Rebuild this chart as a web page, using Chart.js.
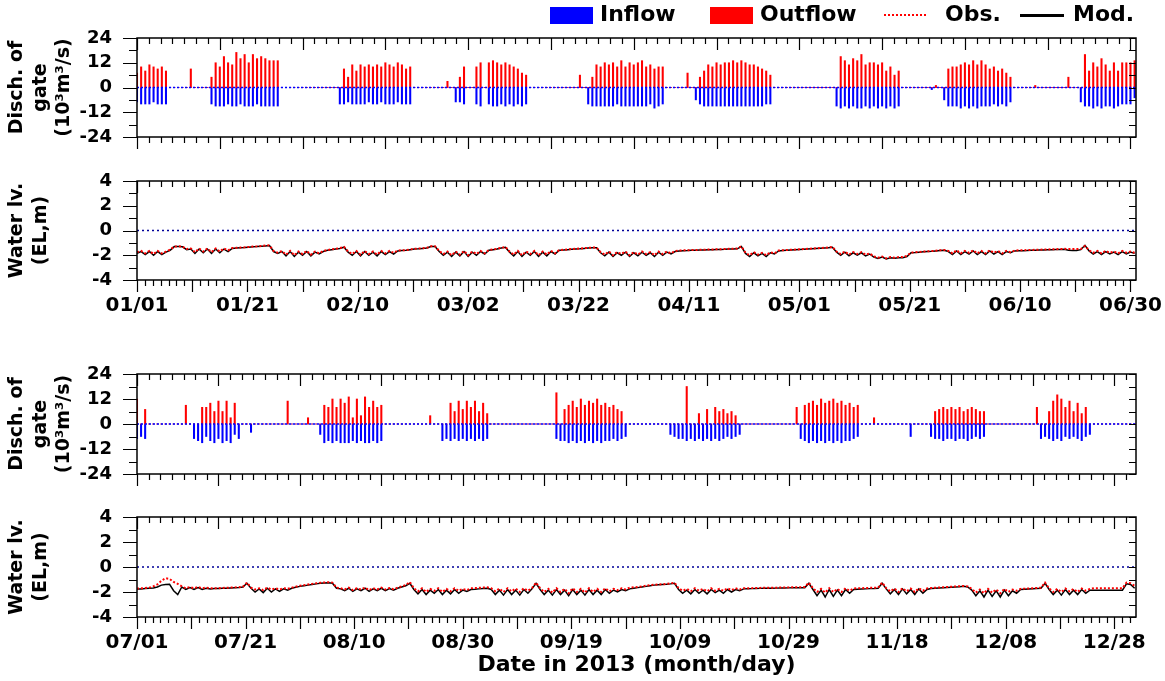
<!DOCTYPE html>
<html>
<head>
<meta charset="utf-8">
<script src="https://cdn.jsdelivr.net/npm/chart.js@4.4.0/dist/chart.umd.min.js"></script>
<style>
  body { margin: 0; background: #fff; width: 1165px; height: 681px; overflow: hidden; position: relative; }
  canvas { position: absolute; left: 0; }
  #legend { position: absolute; left: 0; top: 0; width: 1165px; height: 32px; font: bold 22px "DejaVu Sans", sans-serif; color: #000; }
  #legend span { position: absolute; top: 2px; line-height: 24px; }
  #legend i { position: absolute; display: block; }
</style>
</head>
<body>
<canvas id="disch1" width="1165" height="150" style="top:0px"></canvas>
<canvas id="level1" width="1165" height="170" style="top:150px"></canvas>
<canvas id="disch2" width="1165" height="150" style="top:340px"></canvas>
<canvas id="level2" width="1165" height="191" style="top:490px"></canvas>
<div id="legend">
  <i style="left:550px;top:7px;width:43px;height:17px;background:#0000ff"></i><span style="left:600px">Inflow</span>
  <i style="left:710px;top:7px;width:43px;height:17px;background:#ff0000"></i><span style="left:760px">Outflow</span>
  <i style="left:884px;top:14px;width:42px;border-top:2px dotted #ff0000"></i><span style="left:945px">Obs.</span>
  <i style="left:1020px;top:14px;width:44px;border-top:3px solid #000"></i><span style="left:1073px">Mod.</span>
</div>
<script>
// time axis: days since 01/01 (first half) and since 07/01 (second half)
const SPAN1 = 181;
const SPAN2 = 184;
const SLOT = 0.75; // days between samples in the arrays below
const TICK_DAYS = [0, 20, 40, 60, 80, 100, 120, 140, 160, 180];
const dateLabels1 = ['01/01', '01/21', '02/10', '03/02', '03/22', '04/11', '05/01', '05/21', '06/10', '06/30'];
const dateLabels2 = ['07/01', '07/21', '08/10', '08/30', '09/19', '10/09', '10/29', '11/18', '12/08', '12/28'];

// gate discharge (10^3 m3/s), outflow positive, inflow negative
const outflow1 = [
  7,10,8,11,10,9,10,8,0,0, 0,0,0,9,0,0,0,0,5,12,
  10,15,12,11,17,14,16,12,16,14, 15,14,13,13,13,0,0,0,0,0,
  0,0,0,0,0,0,0,0,0,0, 9,5,11,8,11,10,11,10,11,10,
  12,11,10,12,11,9,10,0,0,0, 0,0,0,0,0,3,0,0,5,10,
  0,0,10,12,0,12,13,12,11,12, 11,10,9,7,6,0,0,0,0,0,
  0,0,0,0,0,0,0,6,0,0, 5,11,10,12,11,12,10,13,10,12,
  11,12,13,10,11,9,10,10,0,0, 0,0,0,7,0,0,5,8,11,10,
  12,11,12,12,13,12,13,12,11,11, 10,9,8,6,0,0,0,0,0,0,
  0,0,0,0,0,0,0,0,0,0, 15,13,11,14,13,16,11,12,12,11,
  12,8,10,6,8,0,0,0,0,0, 0,0,0,1,0,0,9,10,10,11,
  12,11,13,11,13,11,9,10,8,9, 7,5,0,0,0,0,0,1,0,0,
  0,0,0,0,0,5,0,0,0,16, 8,12,10,14,11,8,12,8,12,12, 12,13
];
const inflow1 = [
  -7,-8,-8,-8,-7,-8,-8,-8,0,0, 0,0,0,0,0,0,0,0,-8,-9,
  -9,-9,-8,-9,-9,-8,-9,-9,-9,-8, -9,-9,-9,-9,-9,0,0,0,0,0,
  0,0,0,0,0,0,0,0,0,-8, -8,-7,-8,-8,-8,-8,-7,-8,-8,-7,
  -8,-8,-8,-7,-8,-8,-8,0,0,0, 0,0,0,0,0,0,0,-7,-7,-8,
  0,0,-8,-9,0,-8,-9,-9,-8,-9, -8,-9,-8,-9,-8,0,0,0,0,0,
  0,0,0,0,0,0,0,0,0,-8, -9,-9,-9,-9,-9,-9,-8,-9,-9,-9,
  -9,-9,-9,-9,-8,-10,-9,-8,0,0, 0,0,0,0,0,-6,-8,-9,-9,-9,
  -9,-9,-9,-9,-9,-9,-9,-9,-9,-9, -9,-9,-8,-8,0,0,0,0,0,0,
  0,0,0,0,0,0,0,0,0,-9, -10,-9,-10,-9,-10,-10,-9,-10,-9,-10,
  -9,-10,-9,-10,-9,0,0,0,0,0, 0,0,-1,0,0,-6,-9,-9,-9,-10,
  -9,-10,-9,-10,-9,-9,-9,-8,-9,-8, -9,-7,0,0,0,0,0,0,0,0,
  0,0,0,0,0,0,0,0,-7,-9, -9,-10,-9,-10,-9,-9,-10,-9,-8,-8, -8,-5
];
const outflow2 = [
  12,0,7,0,0,0,0,0,0,0, 0,0,9,0,0,0,8,8,10,6,
  11,6,11,3,10,0,0,0,0,0, 0,0,0,0,0,0,0,11,0,0,
  0,0,3,0,0,0,9,8,12,8, 12,10,13,3,12,4,13,8,11,8,
  9,0,0,0,0,0,0,0,0,0, 0,0,4,0,0,0,0,10,6,11,
  7,11,8,11,6,10,5,0,0,0, 0,0,0,0,0,0,0,0,0,0,
  0,0,0,15,0,7,9,11,8,12, 9,11,10,12,9,10,8,9,7,6,
  0,0,0,0,0,0,0,0,0,0, 0,0,0,0,0,18,0,0,5,0,
  7,0,8,6,7,5,6,4,0,0, 0,0,0,0,0,0,0,0,0,0,
  0,0,8,0,9,10,11,9,12,10, 11,12,10,11,9,10,8,9,0,0,
  0,3,0,0,0,0,0,0,0,0, 0,0,0,0,0,0,6,7,8,7,
  8,7,8,6,7,8,7,6,6,0, 0,0,0,0,0,0,0,0,0,0,
  0,8,0,0,6,11,14,12,8,11, 6,10,5,8,0,0,0,0,0,0, 0,0,0,0,0,0
];
const inflow2 = [
  -7,-6,-7,0,0,0,0,0,0,0, 0,0,0,0,-7,-8,-9,-6,-8,-9,
  -7,-9,-8,-9,-5,-7,0,0,-4,0, 0,0,0,0,0,0,0,0,0,0,
  0,0,0,0,0,-5,-9,-8,-9,-8, -9,-9,-9,-8,-9,-8,-9,-9,-8,-9,
  -8,0,0,0,0,0,0,0,0,0, 0,0,0,0,0,-8,-7,-8,-7,-8,
  -7,-8,-7,-8,-7,-8,-7,0,0,0, 0,0,0,0,0,0,0,0,0,0,
  0,0,0,-7,-8,-8,-9,-8,-9,-8, -9,-8,-9,-8,-9,-8,-8,-7,-8,-7,
  -6,0,0,0,0,0,0,0,0,0, 0,-5,-6,-7,-7,-8,-7,-8,-7,-8,
  -7,-8,-7,-8,-7,-6,-7,-6,-5,0, 0,0,0,0,0,0,0,0,0,0,
  0,0,0,-7,-8,-9,-8,-9,-8,-9, -8,-9,-8,-9,-8,-8,-7,-6,0,0,
  0,0,0,0,0,0,0,0,0,0, -6,0,0,0,0,-6,-7,-7,-8,-7,
  -7,-8,-7,-7,-8,-7,-6,-7,-6,0, 0,0,0,0,0,0,0,0,0,0,
  0,0,-7,-6,-7,-8,-7,-8,-6,-7, -6,-7,-8,-6,-5,0,0,0,0,0, 0,0,0,0,0,0
];

// water level (EL, m)
const modLevel1 = [
  -1.85,-1.7,-1.95,-1.7,-2.0,-1.7,-1.95,-1.75, -1.6, -1.3,-1.3,-1.32,
  -1.55,-1.5,-1.85,-1.5,-1.8,-1.5,-1.85,-1.5,-1.8,-1.5,-1.7,
  -1.45,-1.42,-1.4,-1.38,-1.35,-1.32,-1.3,-1.27,-1.25,-1.22,
  -1.7,-1.85,-1.7,-2.05,-1.7,-2.1,-1.75,-2.0,-1.7,-2.05,-1.75,-1.9,
  -1.7,-1.6,-1.55,-1.5,-1.45,-1.35,
  -1.75,-2.0,-1.7,-2.05,-1.7,-2.0,-1.75,-2.05,-1.7,-1.95,-1.7,-1.9,
  -1.65,-1.62,-1.6,-1.55,-1.5,-1.48,-1.45,-1.42, -1.3,-1.3,
  -1.7,-2.0,-1.75,-2.1,-1.75,-2.05,-1.7,-2.1,-1.75,-2.0,-1.7,-1.9,
  -1.6,-1.55,-1.5,-1.42,-1.35,
  -1.75,-2.05,-1.7,-2.1,-1.75,-2.0,-1.7,-2.1,-1.75,-2.05,-1.7,-1.9,
  -1.6,-1.58,-1.55,-1.52,-1.5,-1.48,-1.45,-1.42,-1.4,-1.4,
  -1.8,-2.05,-1.75,-2.1,-1.8,-2.0,-1.75,-2.1,-1.8,-2.05,-1.75,-2.0,-1.8,-2.1,-1.75,-2.0,-1.75,-1.9,-1.7,
  -1.65,-1.63,-1.62,-1.6,-1.6,-1.58,-1.57,-1.56,-1.55,-1.54,-1.53,-1.52,-1.5,-1.5,-1.48, -1.3,
  -1.85,-2.1,-1.8,-2.05,-1.85,-2.1,-1.8,-1.9,
  -1.65,-1.62,-1.6,-1.58,-1.56,-1.54,-1.52,-1.5,-1.48,-1.46,-1.44,-1.42,-1.4,-1.35,
  -1.75,-2.0,-1.75,-2.05,-1.8,-2.0,-1.8,-2.05,-1.9,
  -2.15,-2.25,-2.15,-2.3,-2.2,-2.25,-2.2,-2.2,-2.1,
  -1.8,-1.78,-1.75,-1.72,-1.7,-1.68,-1.65,-1.62,-1.6,
  -1.7,-1.95,-1.65,-1.95,-1.7,-1.9,-1.65,-1.95,-1.7,-1.95,-1.65,-1.9,-1.7,-1.95,-1.7,-1.8,
  -1.65,-1.64,-1.63,-1.62,-1.6,-1.6,-1.58,-1.57,-1.56,-1.55,-1.54,-1.53,-1.52,-1.6,-1.62,-1.62,-1.55, -1.2,
  -1.65,-1.9,-1.7,-1.95,-1.7,-1.9,-1.75,-1.95,-1.7,-1.9,-1.75,-1.85
];
const obsLevel1 = [
  -1.75,-1.65,-1.85,-1.65,-1.9,-1.65,-1.85,-1.7, -1.55, -1.3,-1.28,-1.3,
  -1.5,-1.45,-1.75,-1.45,-1.7,-1.45,-1.75,-1.45,-1.7,-1.45,-1.6,
  -1.42,-1.4,-1.38,-1.36,-1.33,-1.3,-1.28,-1.25,-1.22,-1.2,
  -1.65,-1.8,-1.65,-1.95,-1.65,-2.0,-1.7,-1.9,-1.65,-1.95,-1.7,-1.85,
  -1.65,-1.58,-1.52,-1.48,-1.42,-1.32,
  -1.7,-1.9,-1.65,-1.95,-1.65,-1.9,-1.7,-1.95,-1.65,-1.85,-1.65,-1.8,
  -1.62,-1.6,-1.58,-1.53,-1.48,-1.46,-1.43,-1.4, -1.28,-1.28,
  -1.65,-1.9,-1.7,-2.0,-1.7,-1.95,-1.65,-2.0,-1.7,-1.9,-1.65,-1.85,
  -1.58,-1.52,-1.48,-1.4,-1.33,
  -1.7,-1.95,-1.65,-2.0,-1.7,-1.9,-1.65,-2.0,-1.7,-1.95,-1.65,-1.85,
  -1.58,-1.56,-1.53,-1.5,-1.48,-1.46,-1.43,-1.4,-1.38,-1.38,
  -1.75,-1.95,-1.7,-2.0,-1.75,-1.9,-1.7,-2.0,-1.75,-1.95,-1.7,-1.9,-1.75,-2.0,-1.7,-1.9,-1.7,-1.85,-1.65,
  -1.62,-1.6,-1.6,-1.58,-1.57,-1.56,-1.55,-1.54,-1.53,-1.52,-1.51,-1.5,-1.48,-1.47,-1.45, -1.28,
  -1.8,-2.0,-1.75,-1.95,-1.8,-2.0,-1.75,-1.85,
  -1.62,-1.6,-1.58,-1.56,-1.54,-1.52,-1.5,-1.48,-1.46,-1.44,-1.42,-1.4,-1.38,-1.32,
  -1.7,-1.9,-1.7,-1.95,-1.75,-1.9,-1.75,-1.95,-1.85,
  -2.1,-2.2,-2.1,-2.25,-2.15,-2.2,-2.15,-2.15,-2.05,
  -1.78,-1.76,-1.73,-1.7,-1.68,-1.66,-1.63,-1.6,-1.58,
  -1.65,-1.85,-1.6,-1.85,-1.65,-1.8,-1.6,-1.85,-1.65,-1.85,-1.6,-1.8,-1.65,-1.85,-1.65,-1.75,
  -1.62,-1.6,-1.6,-1.58,-1.57,-1.56,-1.55,-1.54,-1.53,-1.52,-1.51,-1.5,-1.48,-1.5,-1.5,-1.5,-1.5, -1.25,
  -1.6,-1.8,-1.65,-1.85,-1.65,-1.8,-1.7,-1.85,-1.65,-1.8,-1.7,-1.8
];
const modLevel2 = [
  -1.75,-1.75,-1.72,-1.7,-1.68,-1.6, -1.45,-1.4,-1.38, -1.9,-2.2,
  -1.6,-1.8,-1.65,-1.8,-1.65,-1.8,-1.7,-1.75,-1.72,-1.72,-1.7,-1.7,-1.68,-1.66,-1.65,-1.6, -1.3,
  -1.7,-2.0,-1.75,-2.05,-1.7,-2.0,-1.75,-1.95,-1.75,-1.85,
  -1.7,-1.62,-1.55,-1.5,-1.45,-1.4,-1.35,-1.3,-1.28,-1.26,-1.3, -1.7,
  -1.75,-1.9,-1.7,-1.95,-1.75,-1.9,-1.7,-1.95,-1.75,-1.9,-1.7,-1.9,-1.72,-1.85,-1.7,
  -1.6,-1.5, -1.3,
  -1.8,-2.15,-1.8,-2.2,-1.85,-2.1,-1.8,-2.2,-1.85,-2.15,-1.8,-2.1,-1.85,-1.95,
  -1.8,-1.78,-1.75,-1.72,-1.7, -1.8,-2.2,-1.85,-2.25,-1.8,-2.2,-1.85,-2.25,-1.8,-2.1,-1.75, -1.3,
  -1.8,-2.2,-1.85,-2.25,-1.8,-2.2,-1.85,-2.3,-1.8,-2.2,-1.85,-2.25,-1.8,-2.2,-1.85,-2.2,-1.8,-2.1,-1.85,-2.0,-1.8,-1.9,
  -1.75,-1.7,-1.65,-1.6,-1.55,
  -1.5,-1.45,-1.42,-1.4,-1.38,-1.35, -1.3,
  -1.8,-2.1,-1.85,-2.15,-1.8,-2.1,-1.85,-2.15,-1.8,-2.05,-1.85,-2.1,-1.8,-2.0,-1.8,-1.9,
  -1.75,-1.74,-1.73,-1.72,-1.71,-1.7,-1.7,-1.7,-1.69,-1.68,-1.68,-1.67,-1.66,-1.66,-1.65,-1.65, -1.3,
  -1.8,-2.3,-1.85,-2.4,-1.8,-2.35,-1.85,-2.3,-1.8,-2.1,
  -1.8,-1.78,-1.76,-1.75,-1.73,-1.72,-1.7, -1.3,
  -1.75,-2.15,-1.8,-2.2,-1.75,-2.15,-1.8,-2.2,-1.75,-2.1,-1.8,
  -1.72,-1.7,-1.68,-1.66,-1.64,-1.62,-1.6,-1.58,-1.55, -1.6,
  -1.85,-2.3,-1.9,-2.4,-1.85,-2.35,-1.9,-2.4,-1.85,-2.3,-1.9,-2.1,
  -1.8,-1.78,-1.76,-1.74,-1.72,-1.7, -1.3,
  -1.8,-2.2,-1.85,-2.25,-1.8,-2.2,-1.85,-2.2,-1.8,-2.1,-1.85,
  -1.85,-1.85,-1.85,-1.85,-1.85,-1.85,-1.85,-1.85,
  -1.35,-1.4,-1.7
];
const obsLevel2 = [
  -1.72,-1.7,-1.68,-1.65,-1.55,-1.4, -1.1,-0.9,-0.95, -1.2,-1.35,
  -1.55,-1.7,-1.6,-1.7,-1.6,-1.7,-1.65,-1.7,-1.7,-1.7,-1.68,-1.66,-1.65,-1.63,-1.62,-1.58, -1.25,
  -1.65,-1.8,-1.7,-1.85,-1.65,-1.8,-1.7,-1.8,-1.7,-1.75,
  -1.65,-1.58,-1.5,-1.45,-1.4,-1.35,-1.3,-1.26,-1.24,-1.22,-1.25, -1.65,
  -1.7,-1.8,-1.65,-1.85,-1.7,-1.8,-1.65,-1.85,-1.7,-1.8,-1.65,-1.8,-1.68,-1.78,-1.65,
  -1.55,-1.45, -1.2,
  -1.7,-1.95,-1.7,-2.0,-1.75,-1.9,-1.7,-2.0,-1.75,-1.95,-1.7,-1.9,-1.75,-1.85,
  -1.7,-1.68,-1.66,-1.64,-1.62, -1.7,-1.95,-1.72,-2.0,-1.7,-1.95,-1.72,-2.0,-1.7,-1.9,-1.68, -1.25,
  -1.7,-2.0,-1.75,-2.05,-1.7,-2.0,-1.75,-2.1,-1.7,-2.0,-1.75,-2.05,-1.7,-2.0,-1.75,-2.0,-1.7,-1.95,-1.75,-1.85,-1.7,-1.8,
  -1.65,-1.62,-1.6,-1.55,-1.5,
  -1.45,-1.42,-1.4,-1.38,-1.35,-1.32, -1.25,
  -1.7,-1.9,-1.75,-1.95,-1.7,-1.9,-1.75,-1.95,-1.7,-1.9,-1.75,-1.9,-1.7,-1.85,-1.7,-1.8,
  -1.7,-1.7,-1.69,-1.68,-1.67,-1.66,-1.66,-1.65,-1.65,-1.64,-1.64,-1.63,-1.62,-1.62,-1.61,-1.6, -1.25,
  -1.7,-2.0,-1.75,-2.05,-1.7,-2.0,-1.75,-2.0,-1.7,-1.9,
  -1.72,-1.7,-1.7,-1.68,-1.67,-1.66,-1.65, -1.25,
  -1.7,-1.95,-1.72,-2.0,-1.7,-1.95,-1.72,-2.0,-1.7,-1.9,-1.72,
  -1.68,-1.66,-1.64,-1.62,-1.6,-1.58,-1.56,-1.54,-1.52, -1.55,
  -1.75,-2.05,-1.8,-2.1,-1.75,-2.05,-1.8,-2.1,-1.75,-2.0,-1.8,-1.9,
  -1.75,-1.73,-1.72,-1.7,-1.68,-1.66, -1.25,
  -1.72,-2.0,-1.75,-2.0,-1.72,-1.95,-1.75,-2.0,-1.72,-1.9,-1.75,
  -1.7,-1.7,-1.7,-1.7,-1.7,-1.7,-1.7,-1.7,
  -1.25,-1.3,-1.5
];

const FONT = '"DejaVu Sans", "Verdana", sans-serif';
Chart.defaults.font.family = FONT;
Chart.defaults.font.weight = 'bold';
Chart.defaults.color = '#000';

// box, inward/outward ticks like the original plotting package
const framePlugin = {
  id: 'frame',
  afterDatasetsDraw(chart, args, o) {
    const { ctx, chartArea: a, scales: { x, y } } = chart;
    ctx.save();
    ctx.strokeStyle = '#000';
    ctx.lineWidth = 1.5;
    ctx.strokeRect(a.left, a.top, a.right - a.left, a.bottom - a.top);
    ctx.lineWidth = 1.2;
    ctx.beginPath();
    for (let v = y.min; v <= y.max + 1e-9; v += o.yMinor) {
      const py = Math.round(y.getPixelForValue(v)) + 0.5;
      const major = Math.abs(v / o.yMajor - Math.round(v / o.yMajor)) < 1e-6;
      ctx.moveTo(a.left - (major ? 14 : 8), py); ctx.lineTo(a.left, py);
      ctx.moveTo(a.right, py); ctx.lineTo(a.right - 7, py);
    }
    const xTicks = (step, edge) => {
      const minor = step / 7;
      for (let i = 0; i * minor <= x.max + 1e-9; i++) {
        const px = Math.round(x.getPixelForValue(i * minor)) + 0.5;
        const len = i % 7 === 0 ? 12 : 6;
        ctx.moveTo(px, edge); ctx.lineTo(px, edge + len);
      }
    };
    xTicks(o.topStep, a.top);
    xTicks(o.bottomStep, a.bottom);
    ctx.stroke();
    ctx.restore();
  }
};

function toPoints(values) {
  return values.map((v, i) => ({ x: i * SLOT, y: v }));
}

function xScale(span, labels) {
  return {
    type: 'linear', min: 0, max: span, offset: false,
    display: !!labels,
    grid: { display: false, drawTicks: false }, border: { display: false },
    afterBuildTicks: s => { s.ticks = TICK_DAYS.map(v => ({ value: v })); },
    afterFit: s => { s.paddingLeft = 0; s.paddingRight = 0; s.height = labels ? s.options.fixedHeight : s.height; },
    ticks: {
      autoSkip: false, maxRotation: 0, padding: 14,
      font: { size: 20, weight: 'bold' },
      callback: v => labels ? labels[TICK_DAYS.indexOf(v)] : ''
    }
  };
}

function yScale(lim, step, title) {
  return {
    min: -lim, max: lim,
    grid: { display: false, drawTicks: false }, border: { display: false },
    afterFit: s => { s.width = 137; s.paddingTop = 0; s.paddingBottom = 0; },
    ticks: { stepSize: step, padding: 25, font: { size: 18, weight: 'bold' } },
    title: { display: true, text: title, padding: { top: 5, bottom: 0 }, font: { size: 19, weight: 'bold', lineHeight: 1.25 } }
  };
}

function zeroLine(span, color, dash) {
  return {
    type: 'line', data: [{ x: 0, y: 0 }, { x: span, y: 0 }],
    borderColor: color, borderWidth: 1.5, borderDash: dash, pointRadius: 0
  };
}

function dischChart(id, span, outflow, inflow, pad) {
  return new Chart(document.getElementById(id), {
    type: 'bar',
    data: {
      datasets: [
        zeroLine(span, '#0000ff', [2, 2]),
        { label: 'Outflow', data: toPoints(outflow), backgroundColor: '#ff0000', barThickness: 1.4, grouped: false },
        { label: 'Inflow', data: toPoints(inflow), backgroundColor: '#0000ff', barThickness: 1.4, grouped: false }
      ]
    },
    options: {
      responsive: false, animation: false, events: [],
      layout: { padding: pad },
      plugins: { legend: { display: false }, tooltip: { enabled: false },
                 frame: { yMajor: 12, yMinor: 6, topStep: 15, bottomStep: 15 } },
      scales: { x: xScale(span, null), y: yScale(24, 12, ['Disch. of', 'gate', '(10³m³/s)']) }
    },
    plugins: [framePlugin]
  });
}

function levelChart(id, span, obs, mod, labels, pad, axisHeight, withTitle) {
  const x = xScale(span, labels);
  x.fixedHeight = axisHeight;
  if (withTitle) {
    x.title = { display: true, text: 'Date in 2013 (month/day)', padding: { top: 0, bottom: 3 },
                font: { size: 22, weight: 'bold', lineHeight: 1.2 } };
  }
  return new Chart(document.getElementById(id), {
    type: 'line',
    data: {
      datasets: [
        zeroLine(span, '#000099', [2, 3]),
        { label: 'Obs.', data: toPoints(obs), borderColor: '#ff0000', borderWidth: 2, borderDash: [2, 2], pointRadius: 0 },
        { label: 'Mod.', data: toPoints(mod), borderColor: '#000000', borderWidth: 1.5, pointRadius: 0 }
      ]
    },
    options: {
      responsive: false, animation: false, events: [],
      layout: { padding: pad },
      plugins: { legend: { display: false }, tooltip: { enabled: false },
                 frame: { yMajor: 2, yMinor: 1, topStep: 15, bottomStep: 10 } },
      scales: { x, y: yScale(4, 2, ['Water lv.', '(EL,m)']) }
    },
    plugins: [framePlugin]
  });
}

dischChart('disch1', SPAN1, outflow1, inflow1, { left: 0, right: 29, top: 38, bottom: 13 });
levelChart('level1', SPAN1, obsLevel1, modLevel1, dateLabels1, { left: 0, right: 29, top: 31, bottom: 0 }, 40, false);
dischChart('disch2', SPAN2, outflow2, inflow2, { left: 0, right: 29, top: 34, bottom: 16 });
levelChart('level2', SPAN2, obsLevel2, modLevel2, dateLabels2, { left: 0, right: 29, top: 27, bottom: 0 }, 64, true);
</script>
</body>
</html>
